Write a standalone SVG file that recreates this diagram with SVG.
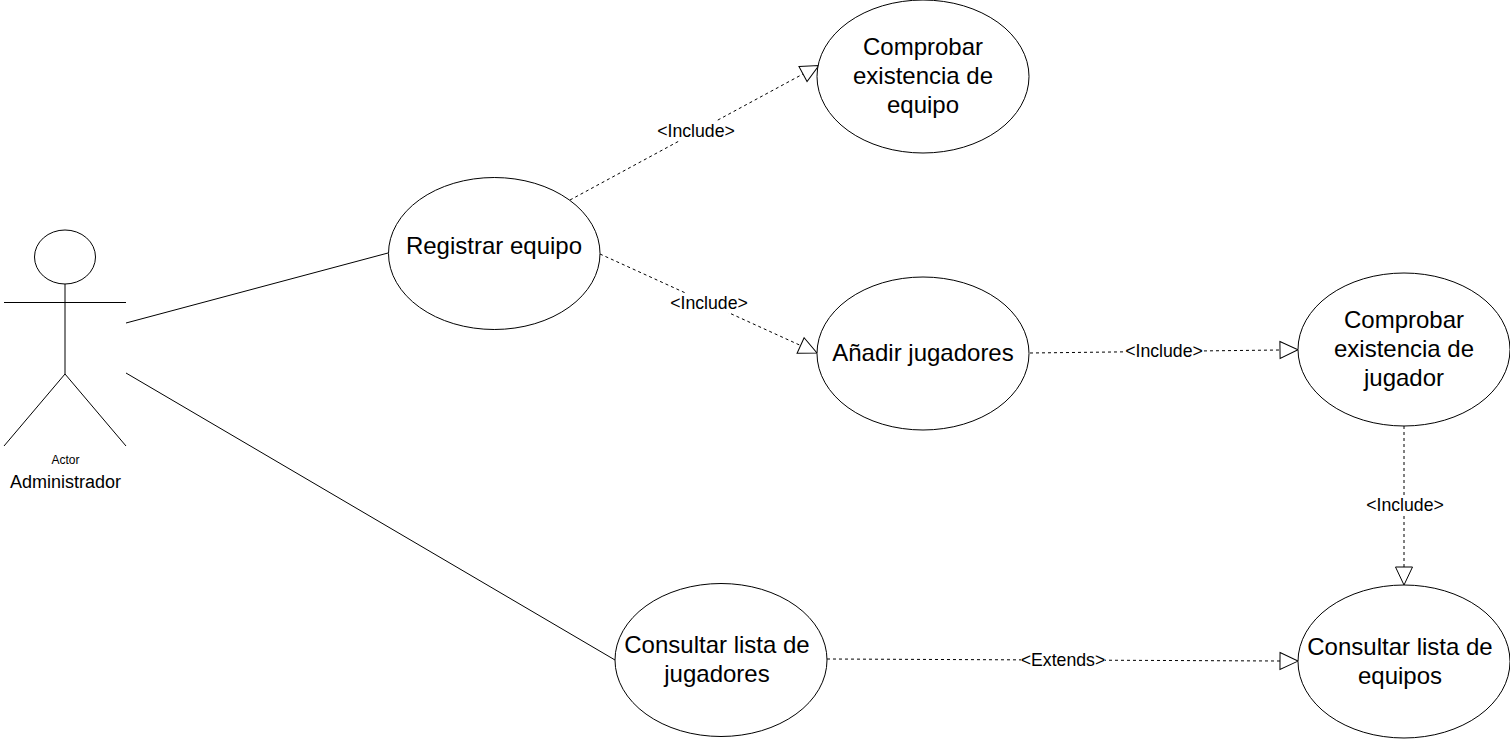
<svg xmlns="http://www.w3.org/2000/svg" width="1510" height="739" viewBox="0 0 1510 739">
<style>
text{font-family:"Liberation Sans",Arial,sans-serif;fill:#000;text-anchor:middle}
.uc{fill:#fff;stroke:#000;stroke-width:1}
.t{font-size:24px}
.l{font-size:17.7px}
.line{fill:none;stroke:#000;stroke-width:1}
.dash{fill:none;stroke:#000;stroke-width:1;stroke-dasharray:3 3;marker-end:url(#open)}
.bg{fill:#fff}
</style>
<defs>
<marker id="open" markerUnits="userSpaceOnUse" markerWidth="22" markerHeight="22" refX="1" refY="11" orient="auto" overflow="visible">
<path d="M1,2.5 L19,11 L1,19.5 Z" fill="none" stroke="#000" stroke-width="1"/>
</marker>
</defs>
<g id="connectors">
<path class="line" d="M126 323L388 253"/>
<path class="line" d="M126 373L615 660"/>
<path class="dash" d="M570 200L803 74"/>
<path class="dash" d="M600 254L800.600 345.500"/>
<path class="dash" d="M1030 353L1280 350"/>
<path class="dash" d="M1404 426L1404 567"/>
<path class="dash" d="M827 659L1280 661"/>
<rect class="bg" x="657" y="121" width="78" height="20"/>
<text class="l" x="696" y="137">&lt;Include&gt;</text>
<rect class="bg" x="670" y="293" width="78" height="20"/>
<text class="l" x="709" y="309">&lt;Include&gt;</text>
<rect class="bg" x="1125" y="341" width="78" height="20"/>
<text class="l" x="1164" y="357">&lt;Include&gt;</text>
<rect class="bg" x="1366" y="495" width="78" height="20"/>
<text class="l" x="1405" y="511">&lt;Include&gt;</text>
<rect class="bg" x="1021" y="650" width="84" height="20"/>
<text class="l" x="1063" y="666">&lt;Extends&gt;</text>
</g>
<g id="actor">
<ellipse cx="65" cy="257" rx="30.500" ry="27" fill="#fff" stroke="#000"/>
<path class="line" d="M65 284V374M4 302.500H126M4 446L65 374L126 446"/>
<text x="65.500" y="464" font-size="12">Actor</text>
<text x="65.500" y="488" font-size="18">Administrador</text>
</g>
<g id="registrar-equipo">
<ellipse class="uc" cx="494.250" cy="253.500" rx="105.750" ry="76"/>
<text class="t" x="494" y="254">Registrar equipo</text>
</g>
<g id="comprobar-equipo">
<ellipse class="uc" cx="923" cy="76.500" rx="106" ry="76.500"/>
<text class="t" x="923" y="55">Comprobar</text>
<text class="t" x="923" y="84">existencia de</text>
<text class="t" x="923" y="113">equipo</text>
</g>
<g id="anadir-jugadores">
<ellipse class="uc" cx="923" cy="353.500" rx="106" ry="76.500"/>
<text class="t" x="923" y="361">Añadir jugadores</text>
</g>
<g id="comprobar-jugador">
<ellipse class="uc" cx="1404" cy="349.500" rx="106" ry="76.500"/>
<text class="t" x="1404" y="328">Comprobar</text>
<text class="t" x="1404" y="357">existencia de</text>
<text class="t" x="1404" y="386">jugador</text>
</g>
<g id="consultar-jugadores">
<ellipse class="uc" cx="721" cy="660" rx="106" ry="76.500"/>
<text class="t" x="717" y="653">Consultar lista de</text>
<text class="t" x="717" y="682">jugadores</text>
</g>
<g id="consultar-equipos">
<ellipse class="uc" cx="1404" cy="661.500" rx="106" ry="76.500"/>
<text class="t" x="1400" y="655">Consultar lista de</text>
<text class="t" x="1400" y="684">equipos</text>
</g>
</svg>
